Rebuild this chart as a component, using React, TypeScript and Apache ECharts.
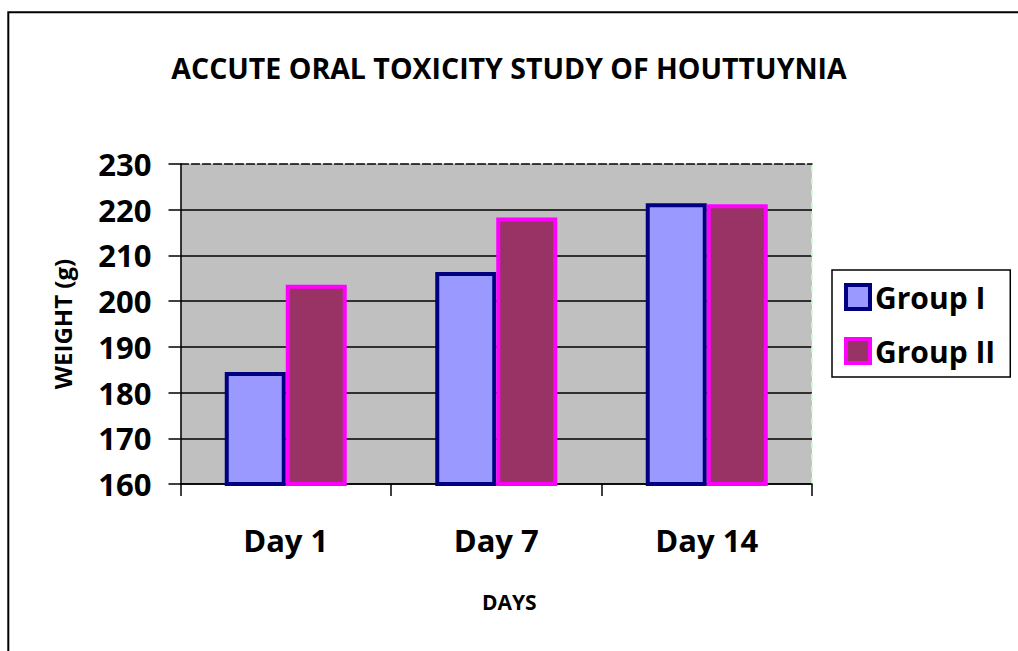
import React, { useEffect, useRef } from "react";
import * as echarts from "echarts";

const categories = ["Day 1", "Day 7", "Day 14"];
const groupI = [184.5, 206.4, 221.4];
const groupII = [203.6, 218.3, 221.2];
const seriesNames = ["Group I", "Group II"];
const yMin = 160;
const yMax = 230;
const yInterval = 10;

const FONT = "'Open Sans', 'Noto Sans', sans-serif";

export default function App() {
  const ref = useRef<HTMLDivElement>(null);
  useEffect(() => {
    if (!ref.current) return;
    const chart = echarts.init(ref.current, null, { renderer: "svg" });
    const styleI = { color: "#9999FF", borderColor: "#000080", borderWidth: 4 };
    const styleII = { color: "#993366", borderColor: "#FF00FF", borderWidth: 4 };
    chart.setOption({
      animation: false,
      backgroundColor: "#FFFFFF",
      textStyle: { fontFamily: FONT },
      title: {
        text: "ACCUTE ORAL TOXICITY STUDY OF HOUTTUYNIA",
        left: "center",
        top: 48,
        textStyle: { fontFamily: FONT, fontSize: 28.5, fontWeight: "bold", color: "#000" },
      },
      graphic: [
        {
          type: "rect",
          shape: { x: 8.3, y: 12.3, width: 1200, height: 1000 },
          style: { fill: "none", stroke: "#000", lineWidth: 2 },
          z: -10,
          silent: true,
        },
      ],
      legend: {
        orient: "vertical",
        left: 832,
        top: 270,
        padding: [12, 15, 11, 12],
        itemGap: 24,
        itemWidth: 24,
        itemHeight: 24,
        itemTextGap: 8,
        icon: "rect",
        backgroundColor: "#FFFFFF",
        borderColor: "#000",
        borderWidth: 1.5,
        textStyle: { fontFamily: FONT, fontSize: 30, fontWeight: "bold", color: "#000", lineHeight: 30 },
        data: [
          { name: seriesNames[0], itemStyle: styleI },
          { name: seriesNames[1], itemStyle: styleII },
        ],
      },
      grid: {
        left: 180.5,
        right: 206,
        top: 164,
        bottom: 167,
        show: true,
        backgroundColor: "#C0C0C0",
        borderWidth: 0,
      },
      xAxis: [
        {
          type: "category",
          data: categories,
          position: "bottom",
          name: "DAYS",
          nameLocation: "middle",
          nameGap: 107,
          nameTextStyle: { fontFamily: FONT, fontSize: 21, fontWeight: "bold", color: "#000", padding: [0, 0, 0, 26] },
          axisLine: { lineStyle: { color: "#000", width: 1.5 } },
          axisTick: { show: true, length: 12, interval: 0, lineStyle: { color: "#000", width: 1.5 } },
          axisLabel: { fontFamily: FONT, fontSize: 31, fontWeight: "bold", color: "#000", margin: 40 },
          splitLine: { show: false },
        },
        {
          type: "category",
          data: categories,
          position: "top",
          axisLine: { lineStyle: { color: "#000", width: 1.5, type: [8, 3] } },
          axisTick: { show: false },
          axisLabel: { show: false },
          splitLine: { show: false },
        },
      ],
      yAxis: [
        {
          type: "value",
          min: yMin,
          max: yMax,
          interval: yInterval,
          name: "WEIGHT (g)",
          nameLocation: "middle",
          nameRotate: 90,
          nameGap: 106,
          nameTextStyle: { fontFamily: FONT, fontSize: 24, fontWeight: "bold", color: "#000" },
          axisLine: { show: true, lineStyle: { color: "#000", width: 1.5 } },
          axisTick: { show: true, length: 12, lineStyle: { color: "#000", width: 1.5 } },
          axisLabel: { fontFamily: FONT, fontSize: 31, fontWeight: "bold", color: "#000", margin: 29 },
          splitLine: { show: true, showMaxLine: false, lineStyle: { color: "#000", width: 1.5 } },
        },
        {
          type: "value",
          min: yMin,
          max: yMax,
          interval: yInterval,
          position: "right",
          axisLine: { show: true, lineStyle: { color: "#CCFFCC", width: 1.5, type: [6, 6] } },
          axisTick: { show: false },
          axisLabel: { show: false },
          splitLine: { show: false },
        },
      ],
      series: [
        {
          name: seriesNames[0],
          type: "bar",
          data: groupI,
          barWidth: 61,
          barGap: "0%",
          itemStyle: styleI,
          xAxisIndex: 0,
          yAxisIndex: 0,
        },
        {
          name: seriesNames[1],
          type: "bar",
          data: groupII,
          barWidth: 61,
          barGap: "0%",
          itemStyle: styleII,
          xAxisIndex: 0,
          yAxisIndex: 0,
        },
      ],
    });
    return () => chart.dispose();
  }, []);
  return (
    <div
      ref={ref}
      style={{ position: "absolute", left: 0, top: 0, width: 1018, height: 651 }}
    />
  );
}
